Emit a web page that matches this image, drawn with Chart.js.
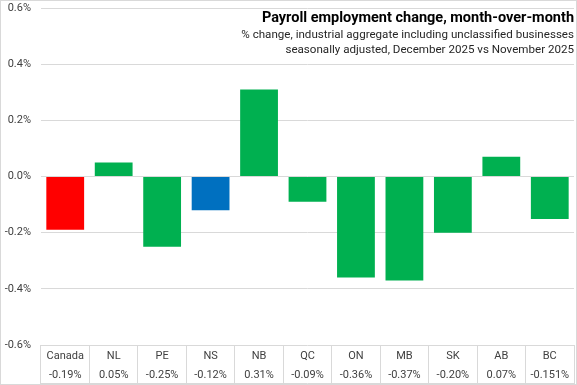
<!DOCTYPE html>
<html>
<head>
<meta charset="utf-8">
<script src="https://cdn.jsdelivr.net/npm/chart.js@4"></script>
<style>
  html, body { margin: 0; padding: 0; background: #fff; }
  #wrap { width: 577px; height: 385px; }
</style>
</head>
<body>
<div id="wrap"><canvas id="payrollChart" width="577" height="385"></canvas></div>
<script>
// data
const provinces = ['Canada', 'NL', 'PE', 'NS', 'NB', 'QC', 'ON', 'MB', 'SK', 'AB', 'BC'];
const changes = [-0.19, 0.05, -0.25, -0.12, 0.31, -0.09, -0.36, -0.37, -0.20, 0.07, -0.151];
const changeLabels = ['-0.19%', '0.05%', '-0.25%', '-0.12%', '0.31%', '-0.09%', '-0.36%', '-0.37%', '-0.20%', '0.07%', '-0.151%'];
const yTicks = [-0.6, -0.4, -0.2, 0.0, 0.2, 0.4, 0.6];

const titleText = 'Payroll employment change, month-over-month';
const subtitleLines = [
    '% change, industrial aggregate including unclassified businesses',
    'seasonally adjusted, December 2025 vs November 2025'
];

const barColors = provinces.map(p => p === 'Canada' ? '#FF0000' : (p === 'NS' ? '#0070C0' : '#00B050'));

// title drawn over the plot, top right, plus outer frame
const overlay = {
    id: 'overlay',
    afterDraw(chart) {
        const ctx = chart.ctx;
        const right = chart.chartArea.right;
        ctx.save();
        ctx.textAlign = 'right';
        ctx.textBaseline = 'middle';
        ctx.fillStyle = '#000';
        ctx.font = 'bold 14.5px Roboto';
        ctx.fillText(titleText, right, 18);
        ctx.fillStyle = '#262626';
        ctx.font = '11.6px Roboto';
        ctx.fillText(subtitleLines[0], right, 35);
        ctx.fillText(subtitleLines[1], right, 50);
        ctx.strokeStyle = '#d9d9d9';
        ctx.lineWidth = 1;
        ctx.strokeRect(0.5, 0.5, chart.width - 1, chart.height - 1);
        ctx.beginPath();
        ctx.moveTo(chart.chartArea.left, chart.height - 1.5);
        ctx.lineTo(right, chart.height - 1.5);
        ctx.stroke();
        ctx.restore();
    }
};

new Chart(document.getElementById('payrollChart'), {
    type: 'bar',
    data: {
        labels: provinces.map((p, i) => [p, changeLabels[i]]),
        datasets: [{
            data: changes,
            backgroundColor: barColors,
            borderWidth: 0,
            barPercentage: 0.78,
            categoryPercentage: 1.0
        }]
    },
    options: {
        responsive: false,
        animation: false,
        layout: { padding: { top: 8, right: 3, left: 0, bottom: 0 } },
        plugins: {
            legend: { display: false },
            tooltip: { enabled: false }
        },
        scales: {
            y: {
                min: -0.6,
                max: 0.6,
                afterBuildTicks: scale => { scale.ticks = yTicks.map(v => ({ value: v })); },
                afterFit: scale => {
                    scale.width = 41;
                    scale.paddingTop = 0;
                    scale.paddingBottom = 0;
                },
                border: { display: false },
                grid: { color: '#d9d9d9', drawTicks: false },
                ticks: {
                    padding: 10,
                    color: '#404040',
                    font: { family: 'Roboto', size: 11 },
                    callback: v => v.toFixed(1) + '%'
                }
            },
            x: {
                afterFit: scale => { scale.height = 40; },
                border: { display: false },
                grid: {
                    offset: true,
                    drawOnChartArea: false,
                    tickLength: 39,
                    color: '#d9d9d9'
                },
                ticks: {
                    padding: -37,
                    color: '#404040',
                    maxRotation: 0,
                    autoSkip: false,
                    font: { family: 'Roboto', size: 11, lineHeight: '19px' }
                }
            }
        }
    },
    plugins: [overlay]
});
</script>
</body>
</html>
